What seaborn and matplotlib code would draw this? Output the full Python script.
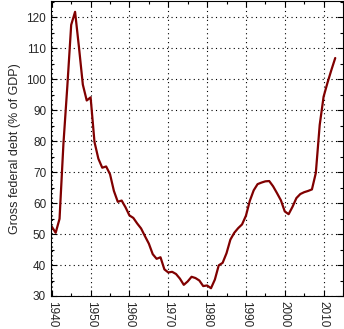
import matplotlib
matplotlib.use("Agg")
import matplotlib.pyplot as plt
import seaborn as sns
import pandas as pd
from matplotlib.ticker import MultipleLocator

years = list(range(1940, 2014))
debt = [52.4, 50.4, 54.9, 79.1, 97.6, 117.5, 121.7, 110.3, 98.2, 93.1,
        94.1, 79.7, 74.3, 71.4, 71.8, 69.3, 63.9, 60.4, 60.8, 58.6,
        56.0, 55.2, 53.4, 51.8, 49.3, 46.9, 43.5, 42.0, 42.5, 38.6,
        37.6, 37.8, 37.1, 35.6, 33.6, 34.7, 36.2, 35.8, 35.0, 33.2,
        33.4, 32.5, 35.3, 39.9, 40.7, 43.8, 48.2, 50.4, 51.9, 53.1,
        55.9, 60.7, 64.1, 66.1, 66.6, 67.0, 67.1, 65.4, 63.2, 60.9,
        57.3, 56.4, 58.8, 61.6, 62.9, 63.5, 63.9, 64.4, 69.7, 85.2,
        94.3, 98.8, 102.9, 106.8]
ylabel = "Gross federal debt (% of GDP)"

df = pd.DataFrame({"year": years, "debt": debt})

sns.set_style("ticks")
plt.rcParams["font.family"] = ["Liberation Sans", "DejaVu Sans"]

fig = plt.figure(figsize=(3.44, 3.29), dpi=100)
ax = fig.add_axes([51/344, 33/329, 292/344, 295/329])
sns.lineplot(data=df, x="year", y="debt", ax=ax, color="#800000", linewidth=1.6)

ax.set_xlim(1939.8, 2015)
ax.set_ylim(30, 125.2)
ax.xaxis.set_major_locator(MultipleLocator(10))
ax.xaxis.set_minor_locator(MultipleLocator(5))
ax.yaxis.set_major_locator(MultipleLocator(10))
ax.yaxis.set_minor_locator(MultipleLocator(5))
ax.tick_params(which="both", direction="in", top=True, right=True, labelsize=8.5, color="black")
ax.tick_params(which="major", length=4, width=0.8)
ax.tick_params(which="minor", length=2, width=0.8)
for lab in ax.get_xticklabels():
    lab.set_rotation(270)
ax.grid(True, which="major", color="black", linestyle=(0, (1, 3)), linewidth=0.8)
for s in ax.spines.values():
    s.set_color("black")
    s.set_linewidth(0.8)
ax.set_xlabel("")
ax.set_ylabel(ylabel, fontsize=9)
fig.savefig("out.png", dpi=100)
